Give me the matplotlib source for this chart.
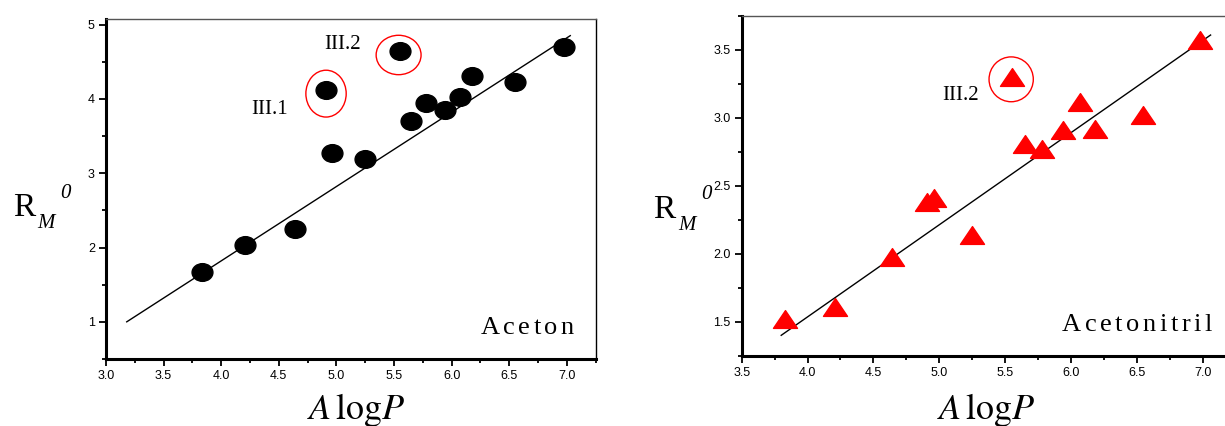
import numpy as np
import matplotlib
matplotlib.use('Agg')
import matplotlib.pyplot as plt
from matplotlib.path import Path
from matplotlib.patches import Ellipse
from matplotlib.transforms import Affine2D
from matplotlib.ticker import MultipleLocator, FormatStrFormatter

plt.rcParams['font.family'] = 'Liberation Sans'
plt.rcParams['mathtext.fontset'] = 'stix'

# Данные
alogp = [3.83, 4.21, 4.64, 4.91, 4.96, 5.25, 5.55, 5.65, 5.78, 5.94, 6.07, 6.18, 6.55, 6.98]
rm_aceton = [1.67, 2.03, 2.25, 4.12, 3.27, 3.19, 4.64, 3.70, 3.94, 3.85, 4.02, 4.31, 4.23, 4.70]
rm_acetonitril = [1.52, 1.61, 1.98, 2.38, 2.41, 2.14, 3.30, 2.81, 2.77, 2.91, 3.12, 2.92, 3.02, 3.57]

# линии регрессии (концы)
fit_aceton_x = [3.18, 7.03]
fit_aceton_y = [1.00, 4.85]
fit_acn_x = [3.80, 7.06]
fit_acn_y = [1.40, 3.61]

# выделенные точки: подпись, центр эллипса, размеры, позиция подписи
out_aceton = [('III.1', 4.91, 4.07, 0.35, 0.63, 4.42, 3.80),
              ('III.2', 5.54, 4.59, 0.39, 0.53, 5.05, 4.67)]
out_acn = [('III.2', 5.546, 3.284, 0.336, 0.33, 5.16, 3.134)]

W, H = 1225, 426
fig = plt.figure(figsize=(W / 100, H / 100), dpi=100)


def px(x, y):
    return x / W, 1 - y / H


def spaced_text(x_right, y_base, s, gap, **kw):
    # текст с разрядкой, выровненный по правому краю
    r = fig.canvas.get_renderer()
    widths = []
    for ch in s:
        t = fig.text(0, 0, ch, **kw)
        widths.append(t.get_window_extent(r).width)
        t.remove()
    x = x_right - sum(widths) - gap * (len(s) - 1)
    for ch, w in zip(s, widths):
        fig.text(*px(x, y_base), ch, ha='left', va='baseline', **kw)
        x += w + gap


def style_axes(ax):
    for s in ['left', 'bottom']:
        ax.spines[s].set_linewidth(2.2)
    ax.spines['top'].set_linewidth(1.0)
    ax.spines['top'].set_color('#555555')
    ax.spines['right'].set_linewidth(1.0)
    ax.tick_params(which='major', direction='out', length=5, width=1.3,
                   labelsize=9, pad=3, top=False, right=False)
    ax.tick_params(which='minor', direction='out', length=3.2, width=1.3,
                   top=False, right=False)
    ax.xaxis.set_major_locator(MultipleLocator(0.5))
    ax.xaxis.set_minor_locator(MultipleLocator(0.25))
    ax.xaxis.set_major_formatter(FormatStrFormatter('%.1f'))


ellipse_marker = Affine2D().scale(1, 0.85).transform_path(Path.unit_circle())
tri_marker = Path([(-1, -0.74), (1, -0.74), (0, 0.74), (-1, -0.74)], closed=True)

serif = 'Liberation Serif'

# Левый график: ацетон
ax1 = fig.add_axes([106 / W, 1 - 359 / H, (595.6 - 106) / W, (359 - 19.3) / H])
ax1.plot(fit_aceton_x, fit_aceton_y, color='black', lw=1)
ax1.plot(alogp, rm_aceton, ls='none', marker=ellipse_marker, ms=15,
         color='black')
for lab, cx, cy, w, h, tx, ty in out_aceton:
    ax1.add_patch(Ellipse((cx, cy), w, h, fill=False, ec='red', lw=1))
    ax1.text(tx, ty, lab, ha='center', va='baseline', fontsize=15, family=serif)
ax1.set_xlim(3.0, 7.25)
ax1.set_ylim(0.5, 5.07)
style_axes(ax1)
ax1.yaxis.set_major_locator(MultipleLocator(1))
ax1.yaxis.set_minor_locator(MultipleLocator(0.5))

# Правый график: ацетонитрил
ax2 = fig.add_axes([741.7 / W, 1 - 355.7 / H, (1235.6 - 741.7) / W, (355.7 - 16) / H])
ax2.plot(fit_acn_x, fit_acn_y, color='black', lw=1)
ax2.plot(alogp, rm_acetonitril, ls='none', marker=tri_marker, ms=17.3,
         color='red')
for lab, cx, cy, w, h, tx, ty in out_acn:
    ax2.add_patch(Ellipse((cx, cy), w, h, fill=False, ec='red', lw=1))
    ax2.text(tx, ty, lab, ha='center', va='baseline', fontsize=15, family=serif)
ax2.set_xlim(3.5, 7.25)
ax2.set_ylim(1.25, 3.75)
style_axes(ax2)
ax2.yaxis.set_major_locator(MultipleLocator(0.5))
ax2.yaxis.set_minor_locator(MultipleLocator(0.25))
ax2.yaxis.set_major_formatter(FormatStrFormatter('%.1f'))

# подписи осей
for x0, y0 in [(12.7, 216.3), (653.3, 218)]:
    fig.text(*px(x0, y0), 'R', fontsize=24, family=serif, va='baseline')
    fig.text(*px(x0 + 25, y0 + 12), 'M', fontsize=15, family=serif,
             style='italic', va='baseline')
    fig.text(*px(x0 + 47.5, y0 - 18.5), '0', fontsize=15, family=serif,
             style='italic', va='baseline')

for xc in [356, 986]:
    fig.text(*px(xc, 419), r'$A\,\mathrm{log}P$', ha='center', va='baseline',
             fontsize=26)

spaced_text(574, 334, 'Aceton', 3.5, fontsize=19, family=serif)
spaced_text(1211.7, 331.3, 'Acetonitril', 3.5, fontsize=19, family=serif)

fig.savefig('out.png', dpi=100)
